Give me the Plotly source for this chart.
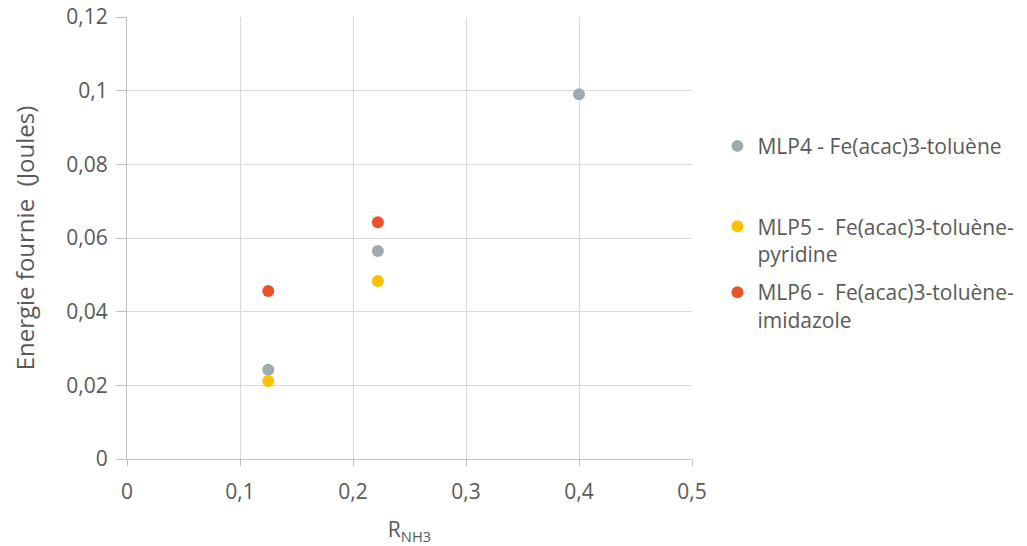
import plotly.graph_objects as go

series_names = [
    "MLP4 - Fe(acac)3-toluène",
    "MLP5 -  Fe(acac)3-toluène-<br>pyridine",
    "MLP6 -  Fe(acac)3-toluène-<br>imidazole",
]
x_mlp4 = [0.125, 0.222, 0.40]
y_mlp4 = [0.0242, 0.0565, 0.0990]
x_mlp5 = [0.125, 0.222]
y_mlp5 = [0.0212, 0.0483]
x_mlp6 = [0.125, 0.222]
y_mlp6 = [0.0456, 0.0643]
colors = ["#9dabb0", "#ffc000", "#ec5224"]
legend_ids = ["legend", "legend2", "legend3"]
legend_ys = [0.754, 0.572, 0.423]

fig = go.Figure()
for i, (xs, ys) in enumerate([(x_mlp4, y_mlp4), (x_mlp5, y_mlp5), (x_mlp6, y_mlp6)]):
    fig.add_trace(go.Scatter(
        x=xs, y=ys, mode="markers", name=series_names[i], legend=legend_ids[i],
        marker=dict(color=colors[i], size=12),
    ))

font = "Open Sans, Liberation Sans, sans-serif"
leg_common = dict(x=1.045, xanchor="left", yanchor="top",
                  font=dict(size=21, color="#595959"), valign="top",
                  itemwidth=30, bgcolor="rgba(0,0,0,0)")
fig.update_layout(
    width=1045, height=538,
    margin=dict(l=119, r=361, t=9, b=87),
    paper_bgcolor="white", plot_bgcolor="white",
    separators=", ",
    font=dict(family=font, size=21, color="#595959"),
    showlegend=True,
    legend=dict(y=legend_ys[0], **leg_common),
    legend2=dict(y=legend_ys[1], **leg_common),
    legend3=dict(y=legend_ys[2], **leg_common),
    xaxis=dict(range=[0, 0.5], dtick=0.1, showgrid=True, gridcolor="#d9d9d9",
               zeroline=False, showline=True, linecolor="#bfbfbf", linewidth=1,
               ticks="outside", ticklen=6, tickcolor="#bfbfbf", automargin=False,
               ticklabelstandoff=8, ticklabeloverflow="allow",
               title=dict(text="R<sub>NH3</sub>", standoff=18, font=dict(size=21)),
               tickfont=dict(size=21)),
    yaxis=dict(range=[0, 0.12], dtick=0.02, showgrid=True, gridcolor="#d9d9d9",
               zeroline=False, showline=True, linecolor="#bfbfbf", linewidth=1,
               ticks="outside", ticklen=10, tickcolor="#bfbfbf", automargin=False,
               ticklabelstandoff=4, ticklabeloverflow="allow",
               title=dict(text="Energie fournie  (Joules)", standoff=42, font=dict(size=24)),
               tickfont=dict(size=21)),
)
fig.write_html("out.html")
